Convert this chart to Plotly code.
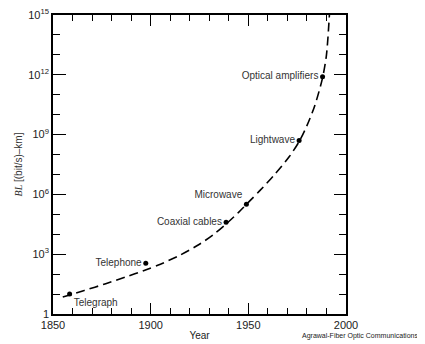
import plotly.graph_objects as go

# Milestones (year, BL in (bit/s)-km as log10 exponent)
milestone_names = ["Telegraph", "Telephone", "Coaxial cables", "Microwave", "Lightwave", "Optical amplifiers"]
milestone_years = [1858.5, 1897.5, 1938.6, 1949.0, 1976.0, 1988.0]
milestone_log_bl = [1.0, 2.55, 4.6, 5.5, 8.7, 11.9]
label_positions = ["bottom right", "middle left", "middle left", "top left", "middle left", "middle left"]

# Trend curve
curve_years = [1855, 1866, 1877, 1887, 1897, 1905, 1915, 1925, 1933, 1939, 1945, 1950, 1956, 1963, 1971, 1976, 1980, 1984, 1988, 1990, 1991.5]
curve_log_bl = [0.85, 1.18, 1.52, 1.85, 2.2, 2.5, 2.95, 3.5, 4.05, 4.55, 5.1, 5.6, 6.2, 6.95, 7.9, 8.65, 9.45, 10.45, 11.85, 13.0, 15.0]

y_major = [1, 1e3, 1e6, 1e9, 1e12, 1e15]
y_major_text = ["1", "10<sup>3</sup>", "10<sup>6</sup>", "10<sup>9</sup>", "10<sup>12</sup>", "10<sup>15</sup>"]
y_minor = [10 ** k for k in range(16)]
x_major = [1850, 1900, 1950, 2000]
x_minor = list(range(1850, 2001, 10))

fig = go.Figure()
fig.add_trace(go.Scatter(
    x=curve_years, y=[10 ** v for v in curve_log_bl],
    mode="lines", line=dict(color="black", width=1.6, dash="9px,5px", shape="spline", smoothing=0.8),
    hoverinfo="skip", showlegend=False, cliponaxis=False))
fig.add_trace(go.Scatter(
    x=milestone_years, y=[10 ** v for v in milestone_log_bl],
    mode="markers+text", text=milestone_names, textposition=label_positions,
    textfont=dict(family="Liberation Sans", size=10, color="#333"),
    marker=dict(color="black", size=5), showlegend=False))
# empty trace to carry the mirrored (top/right) axes
fig.add_trace(go.Scatter(x=[], y=[], xaxis="x2", yaxis="y2", showlegend=False))

font_ticks = dict(family="Liberation Sans", size=11, color="#222")
base = dict(showgrid=False, zeroline=False, showline=True, linecolor="black", linewidth=1.6,
            ticks="inside", tickcolor="black", tickwidth=1, automargin=False, ticklabeloverflow="allow")

fig.update_layout(
    width=425, height=344, margin=dict(l=45, r=87, t=7, b=38),
    paper_bgcolor="white", plot_bgcolor="white",
    xaxis=dict(range=[1850, 2000], tickmode="array", tickvals=x_major, ticklen=11, tickfont=font_ticks,
               minor=dict(tickmode="array", tickvals=x_minor, ticklen=6, ticks="inside", tickcolor="black"),
               title=dict(text="Year", font=dict(family="Liberation Sans", size=10, color="#222"), standoff=2),
               **base),
    yaxis=dict(type="log", range=[0, 15], tickmode="array", tickvals=y_major, ticktext=y_major_text, ticklen=13,
               tickfont=font_ticks,
               minor=dict(tickmode="array", tickvals=y_minor, ticklen=7, ticks="inside", tickcolor="black"),
               title=dict(text="<span style='font-family:Liberation Serif'><i>BL</i></span> [(bit/s)–km]",
                          font=dict(family="Liberation Sans", size=10, color="#333"), standoff=4),
               **base),
    xaxis2=dict(range=[1850, 2000], overlaying="x", side="top", tickmode="array", tickvals=x_major, ticklen=11,
                showticklabels=False,
                minor=dict(tickmode="array", tickvals=x_minor, ticklen=6, ticks="inside", tickcolor="black"),
                **base),
    yaxis2=dict(type="log", range=[0, 15], overlaying="y", side="right", tickmode="array", tickvals=y_major,
                ticklen=12, showticklabels=False,
                minor=dict(tickmode="array", tickvals=y_minor, ticklen=7, ticks="inside", tickcolor="black"),
                **base),
)

fig.add_annotation(text="Agrawal-Fiber Optic Communications", xref="paper", yref="paper",
                   x=1.253, y=-0.074, xanchor="right", yanchor="middle", showarrow=False,
                   font=dict(family="Liberation Sans", size=7, color="#222"))

fig.write_html("out.html")
